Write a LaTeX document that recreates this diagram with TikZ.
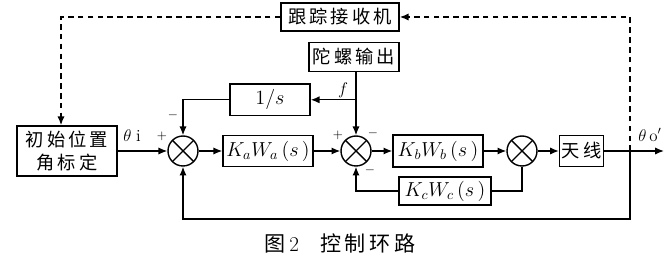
\documentclass[tikz,border=0pt]{standalone}
\usepackage{fontspec}
\newfontfamily\cjk{Noto Sans CJK SC}
\usepackage{xcolor}
\usetikzlibrary{arrows.meta, positioning, calc}

\begin{document}
\begin{tikzpicture}[>={Latex[length=2.2mm,width=1.8mm]}, line width=1pt,
  blk/.style={draw, line width=1pt, inner sep=0pt, font=\cjk\fontsize{13}{16}\selectfont},
  mth/.style={blk, font=\fontsize{14.5}{17}\selectfont},
  sumn/.style={circle, draw, line width=1pt, minimum size=0.75cm, inner sep=0pt,
    path picture={\draw[line width=1pt]
      (path picture bounding box.north west) -- (path picture bounding box.south east)
      (path picture bounding box.north east) -- (path picture bounding box.south west);}},
  sgn/.style={font=\small},
  trk/.style={dash pattern=on 4pt off 3pt, line width=1.1pt}]

  \useasboundingbox (0,0) rectangle (16.8,6.475);

  % 方框
  \node[blk, minimum width=2.95cm, minimum height=0.7cm] (track) at (8.5,6.05) {跟\,踪\,接\,收\,机};
  \node[blk, minimum width=2.25cm, minimum height=0.72cm] (gyro) at (8.85,5.05) {陀\,螺\,输\,出};
  \node[mth, minimum width=2.0cm, minimum height=0.78cm] (integ) at (6.75,3.98) {$1/s$};
  \node[blk, minimum width=2.5cm, minimum height=1.25cm, align=center] (init) at (1.675,2.7) {初\,始\,位\,置\\角\,标\,定};
  \node[mth, minimum width=2.25cm, minimum height=0.78cm] (kawa) at (6.7,2.7) {$K_aW_a\,(s\,)$};
  \node[mth, minimum width=2.25cm, minimum height=0.8cm] (kbwb) at (10.95,2.7) {$K_bW_b\,(s\,)$};
  \node[blk, minimum width=1.1cm, minimum height=0.78cm] (ant) at (14.54,2.7) {天\,线};
  \node[mth, minimum width=2.3cm, minimum height=0.7cm] (kcwc) at (11.125,1.7) {$K_cW_c\,(s\,)$};

  % 比较点
  \node[sumn] (sum1) at (4.575,2.7) {};
  \node[sumn] (sum2) at (8.9,2.7) {};
  \node[sumn] (sum3) at (13.05,2.7) {};

  \coordinate (br)  at (15.75,2.7);
  \coordinate (out) at (16.6,2.7);
  \coordinate (bot) at (15.75,1.0);
  \coordinate (tr)  at (15.75,6.05);
  \coordinate (tl)  at (1.525,6.05);
  \coordinate (fb)  at (8.9,3.98);

  % 主通道
  \draw[->] (init) -- (sum1);
  \draw[->] (sum1) -- (kawa);
  \draw[->] (kawa) -- (sum2);
  \draw[->] (sum2) -- (kbwb);
  \draw[->] (kbwb) -- (sum3);
  \draw[->] (sum3) -- (ant);
  \draw[->] (ant) -- (out);

  % 反馈
  \draw[->] (gyro.south -| sum2) -- (sum2);
  \draw[->] (fb) -- (integ);
  \draw[->] (integ) -| (sum1);
  \draw (sum3) |- (kcwc);
  \draw[->] (kcwc) -| (sum2);
  \draw[->] (br) -- (bot) -| (sum1);

  % 跟踪回路
  \draw[trk, ->] (br) -- (tr) -- (track);
  \draw[trk, ->] (track) -- (tl) -- (tl |- init.north);

  % 标注
  \node[font=\large] (thi) at (3.3,3.075) {$\theta$\;i};
  \node[sgn] (p1) at (4.05,3.075) {$+$};
  \node[sgn] (m1) at (4.325,3.6) {$-$};
  \node[sgn] (p2) at (8.45,3.1) {$+$};
  \node[sgn] (m2) at (9.325,3.15) {$-$};
  \node[sgn] (m3) at (9.25,2.225) {$-$};
  \node[font=\large] (f) at (8.575,4.225) {$f$};
  \node[font=\large] (tho) at (16.25,3.1) {$\theta$\,o$'$};

  \node[font=\cjk\fontsize{15}{18}\selectfont] (cap) at (8.5,0.4) {图\,{\rmfamily 2}\quad 控\,制\,环\,路};

\end{tikzpicture}
\end{document}
